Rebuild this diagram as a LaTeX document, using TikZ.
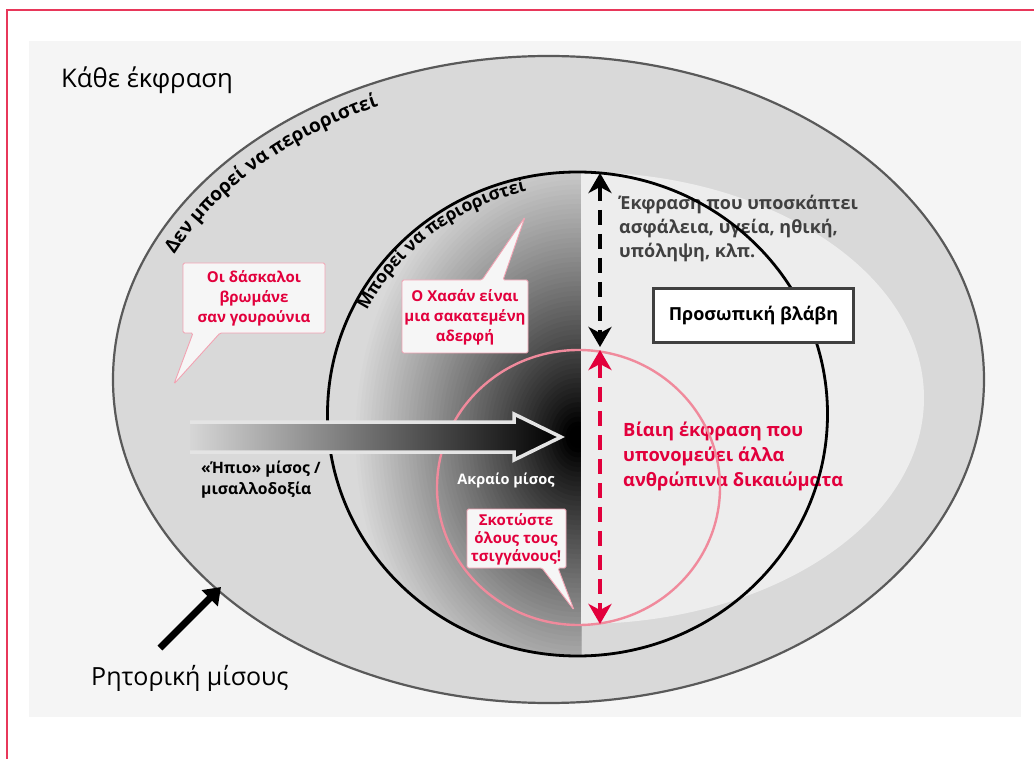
\documentclass[tikz,border=0pt]{standalone}
\usepackage{fontspec}
\setmainfont{Open Sans}
\usetikzlibrary{arrows.meta,decorations.text}

\definecolor{redT}{HTML}{E2003C}
\definecolor{pinkC}{HTML}{F08A9C}
\definecolor{pinkB}{HTML}{F2A2B2}
\definecolor{bgG}{HTML}{F5F5F5}
\definecolor{ringG}{HTML}{D9D9D9}
\definecolor{ringD}{HTML}{595959}
\definecolor{lightR}{HTML}{EDEDED}
\definecolor{txtG}{HTML}{404040}
\definecolor{frameR}{HTML}{E8375A}
\definecolor{calloutF}{HTML}{F6F6F6}
\definecolor{arrowO}{HTML}{E4E4E4}
\definecolor{arrowL}{HTML}{D6D6D6}

\tikzset{
  callout/.style={fill=calloutF, draw=pinkB, line width=0.9pt, rounded corners=1.5pt},
  calltext/.style={text=redT, align=center, inner sep=0pt},
  dashedarrow/.style={dash pattern=on 15pt off 9pt, line width=4pt,
     {Stealth[width=23pt,length=20pt,inset=6pt]}-{Stealth[width=23pt,length=20pt,inset=6pt]}},
  plainlabel/.style={inner sep=0pt},
}

\begin{document}
\begin{tikzpicture}[x=1pt,y=-1pt]
\useasboundingbox (0,0) rectangle (1034,759);

% frame
\draw[frameR, line width=1.8pt] (7,760) -- (7,10) -- (1035,10);
% background
\fill[bgG] (29,41) rectangle (1021,717);

% outer ellipse
\draw[ringD, line width=2.2pt, fill=ringG] (548.5,379.5) ellipse [x radius=435.5, y radius=323.5];

% dark gradient (left half of inner circle), built from concentric ellipses
\begin{scope}
  \clip (577.5,414) ellipse [x radius=250, y radius=242];
  \clip (300,150) rectangle (581,700);
  \foreach \i in {0,...,59}{
    \pgfmathsetmacro\dd{1-\i/60}
    \pgfmathsetmacro\pp{min(100,100*(1-pow(\dd,0.85))*1.08)}
    \fill[black!\pp!ringG] (578,437) ellipse [x radius={225*\dd+1}, y radius={290*\dd+1}];
  }
\end{scope}

% light region
\fill[lightR] (581,172) arc[start angle=-90, end angle=90, x radius=343, y radius=226] -- cycle;

% texts under the circles
\node[plainlabel, anchor=west, align=left, text=txtG, font=\bfseries\fontsize{18}{24}\selectfont] (harm) at (619,229)
  {Έκφραση που υποσκάπτει\\ασφάλεια, υγεία, ηθική,\\υπόληψη, κλπ.};
\node[plainlabel, anchor=west, align=left, text=redT, font=\bfseries\fontsize{18.3}{25}\selectfont] (viol) at (623,456)
  {Βίαιη έκφραση που\\υπονομεύει άλλα\\ανθρώπινα δικαιώματα};

% circles
\draw[black, line width=2.8pt] (577.5,414) ellipse [x radius=250, y radius=242];
\draw[pinkC, line width=2.4pt] (578.5,487.5) ellipse [x radius=141.5, y radius=137.5];

% big gradient arrow
\shade[left color=arrowL, right color=black, draw=arrowO, line width=3.5pt, line join=miter]
  (190,422) -- (514,422) -- (514,414) -- (561,437) -- (514,460) -- (514,452) -- (190,452);

% labels
\node[plainlabel, anchor=west, align=left, font=\bfseries\fontsize{15.7}{21}\selectfont] (mild) at (201,479.5)
  {«Ήπιο» μίσος /\\μισαλλοδοξία};
\node[plainlabel, text=white, font=\bfseries\fontsize{14.5}{18}\selectfont] (extr) at (506,480) {Ακραίο μίσος};

% callouts
\path[callout] (183,263) -- (325,263) -- (325,333) -- (220,333) -- (174,384) -- (193,333) -- (183,333) -- cycle;
\node[calltext, font=\bfseries\fontsize{15}{20}\selectfont] (c1) at (254,298) {Οι δάσκαλοι\\βρωμάνε\\σαν γουρούνια};

\path[callout] (402,280) -- (482,280) -- (525,217) -- (503,280) -- (528,280) -- (528,353) -- (402,353) -- cycle;
\node[calltext, font=\bfseries\fontsize{15}{20}\selectfont] (c2) at (465,317) {Ο Χασάν είναι\\μια σακατεμένη\\αδερφή};

\path[callout] (467,509) -- (566,509) -- (566,568) -- (558,568) -- (574,610) -- (542,568) -- (467,568) -- cycle;
\node[calltext, font=\bfseries\fontsize{15}{18}\selectfont] (c3) at (516,539) {Σκοτώστε\\όλους τους\\τσιγγάνους!};

% box
\node[draw=txtG, line width=3.5pt, fill=white, minimum width=200pt, minimum height=54pt, inner sep=0pt,
      font=\bfseries\fontsize{18}{20}\selectfont] (pb) at (753.5,315.5) {Προσωπική βλάβη};

% dashed arrows
\coordinate (da1) at (600,173);
\coordinate (da2) at (600,347);
\coordinate (ra1) at (600,350);
\coordinate (ra2) at (600,624);
\draw[dashedarrow, black] (da1) -- (da2);
\draw[dashedarrow, redT] (ra1) -- (ra2);

% curved texts
\path[decorate, decoration={text along path, text align=center,
   text={|\bfseries\fontsize{19}{19}\selectfont|Δεν μπορεί να περιοριστεί}}]
   (548.5,379.5) ++(-181:411 and 300) arc[start angle=-181, end angle=-95, x radius=411, y radius=300];
\path[decorate, decoration={text along path, text align=center,
   text={|\bfseries\fontsize{17.5}{17.5}\selectfont|Μπορεί να περιοριστεί}}]
   (577.5,414) ++(-168:236 and 228) arc[start angle=-168, end angle=-88, x radius=236, y radius=228];

% titles
\node[plainlabel, anchor=west, font=\fontsize{25.7}{30}\selectfont] (all) at (61,80) {Κάθε έκφραση};
\node[plainlabel, anchor=west, font=\fontsize{25}{30}\selectfont] (rhet) at (91,678) {Ρητορική μίσους};

% black arrow
\coordinate (ha1) at (160,648);
\coordinate (ha2) at (221,587);
\draw[line width=7pt, -{Triangle[width=22pt,length=16pt]}] (ha1) -- (ha2);
\end{tikzpicture}
\end{document}
